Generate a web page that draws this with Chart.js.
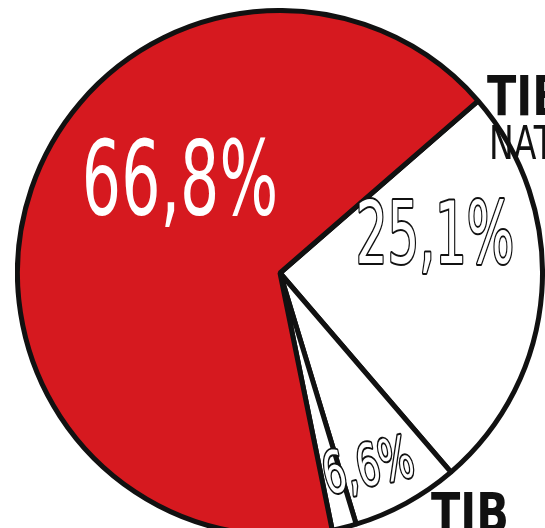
<!DOCTYPE html>
<html>
<head>
<meta charset="utf-8">
<script src="https://cdn.jsdelivr.net/npm/chart.js@4/dist/chart.umd.min.js"></script>
<style>
  html, body { margin: 0; padding: 0; background: #fff; width: 545px; height: 528px; overflow: hidden; }
  #wrap { position: relative; width: 545px; height: 528px; overflow: hidden; }
  #pie { position: absolute; left: 15px; top: 8px; }
  .side { position: absolute; font-family: 'DejaVu Sans', sans-serif; color: #111; line-height: 1; white-space: nowrap; transform-origin: 0 0; }
  .big { font-weight: bold; font-size: 55px; transform: scaleX(0.78); }
  .small { font-size: 46px; transform: scaleX(0.72); }
</style>
</head>
<body>
<div id="wrap">
  <canvas id="pie" width="530" height="530"></canvas>
  <div class="side big" style="left:487px;top:69px;">TIB</div>
  <div class="side small" style="left:489px;top:120px;">NAT</div>
  <div class="side big" style="left:431px;top:486px;">TIB</div>
</div>
<script>
// slices, clockwise from the top-right boundary
const categories = ['b', 'c', 'd', 'a'];
const shares = [25.1, 6.6, 1.5, 66.8];
const sliceColors = ['#ffffff', '#ffffff', '#ffffff', '#d6191f'];
const labelText = ['25,1%', '6,6%', '', '66,8%'];

// label placement relative to pie centre (baseline), per slice:
// [dx, dy, font size, x squeeze, rotation, outlined]
const labelPlace = [
  [155, -10, 86, 0.58, 0, true],
  [92, 212, 58, 0.62, -12, true],
  null,
  [-100, -58, 103, 0.6, 0, false]
];

const pieLabels = {
  id: 'pieLabels',
  afterDatasetsDraw(chart) {
    const ctx = chart.ctx;
    const arc = chart.getDatasetMeta(0).data[0];
    const cx = arc.x, cy = arc.y;
    labelText.forEach((t, i) => {
      const p = labelPlace[i];
      if (!t || !p) return;
      ctx.save();
      ctx.translate(cx + p[0], cy + p[1]);
      ctx.rotate(p[4] * Math.PI / 180);
      ctx.scale(p[3], 1);
      ctx.font = p[2] + "px 'DejaVu Sans', sans-serif";
      ctx.textAlign = 'center';
      ctx.textBaseline = 'alphabetic';
      ctx.lineJoin = 'round';
      if (p[5]) {
        ctx.lineWidth = 4;
        ctx.strokeStyle = '#111';
        ctx.strokeText(t, 0, 0);
      }
      ctx.fillStyle = '#fff';
      ctx.fillText(t, 0, 0);
      ctx.restore();
    });
  }
};

new Chart(document.getElementById('pie'), {
  type: 'pie',
  data: {
    labels: categories,
    datasets: [{
      data: shares,
      backgroundColor: sliceColors,
      borderColor: '#111',
      borderWidth: 5
    }]
  },
  options: {
    responsive: false,
    animation: false,
    rotation: 49,
    plugins: {
      legend: { display: false },
      tooltip: { enabled: false }
    }
  },
  plugins: [pieLabels]
});
</script>
</body>
</html>
